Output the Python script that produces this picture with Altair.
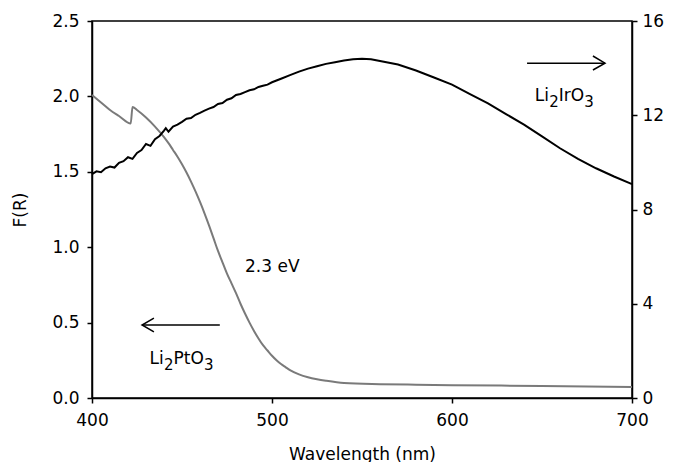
import altair as alt
import pandas as pd

# Li2IrO3 (right axis)
ir_wl = [400, 402.5, 405, 407.5, 410, 412.5, 415, 417.5, 420, 422.5, 425, 427.5, 430, 432.5,
         435, 437.5, 440, 441, 442.5, 445, 447.5, 450, 452.5, 455, 457.5, 460, 462.5, 465,
         467.5, 470, 472.5, 475, 477.5, 480, 482.5, 485, 487.5, 490, 492.5, 495, 497.5, 500,
         505, 510, 515, 520, 525, 530, 535, 540, 545, 550, 555, 560, 570, 580, 590, 600,
         610, 620, 630, 640, 650, 660, 670, 680, 690, 700]
ir_val = [9.50, 9.62, 9.58, 9.75, 9.82, 9.78, 9.98, 10.05, 10.22, 10.15, 10.40, 10.52, 10.78, 10.70,
          10.98, 11.12, 11.35, 11.45, 11.30, 11.52, 11.60, 11.72, 11.85, 11.88, 12.02, 12.10, 12.20, 12.28,
          12.35, 12.48, 12.52, 12.66, 12.72, 12.86, 12.90, 12.98, 13.06, 13.10, 13.20, 13.25, 13.30, 13.40,
          13.55, 13.70, 13.85, 13.98, 14.08, 14.18, 14.25, 14.32, 14.38, 14.40, 14.38, 14.30, 14.15, 13.90, 13.60, 13.30,
          12.90, 12.50, 12.05, 11.60, 11.10, 10.60, 10.15, 9.75, 9.40, 9.08]

# Li2PtO3 (left axis)
pt_wl = [400, 405, 410, 415, 421.5, 422.5, 425, 430, 435, 440, 442.5, 445, 447.5, 450, 452.5,
         455, 457.5, 460, 462.5, 465, 467.5, 470, 472.5, 475, 477.5, 480, 482.5, 485, 487.5,
         490, 492.5, 495, 497.5, 500, 502.5, 505, 507.5, 510, 515, 520, 525, 530, 540, 560,
         580, 600, 650, 700]
pt_val = [2.01, 1.96, 1.91, 1.87, 1.82, 1.93, 1.91, 1.86, 1.80, 1.73, 1.69, 1.645, 1.60, 1.55, 1.495,
          1.435, 1.37, 1.30, 1.225, 1.145, 1.06, 0.975, 0.90, 0.825, 0.76, 0.695, 0.625, 0.56, 0.50,
          0.445, 0.395, 0.35, 0.315, 0.28, 0.25, 0.225, 0.205, 0.185, 0.157, 0.138, 0.125, 0.115, 0.10, 0.092,
          0.088, 0.085, 0.08, 0.073]

x_ticks = [400, 500, 600, 700]
left_ticks = [0, 0.5, 1.0, 1.5, 2.0, 2.5]
right_ticks = [0, 4, 8, 12, 16]

# annotation anchors (wavelength, F(R))
ev_label = ("2.3 eV", 485, 0.87)
ir_label = (646, 2.0)
pt_label = (432, 0.26)
arrow_right = [(641.7, 2.22), (685, 2.22)]
arrow_right_head = [(678.3, 2.268), (685, 2.22), (678.3, 2.175)]
arrow_left = [(471, 0.484), (427.8, 0.484)]
arrow_left_head = [(434.4, 0.53), (427.8, 0.484), (434.4, 0.438)]

FONT = "DejaVu Sans"
xs = alt.Scale(domain=[400, 700], nice=False)
yl = alt.Scale(domain=[0, 2.5], nice=False)
yr = alt.Scale(domain=[0, 16], nice=False)

ir_df = pd.DataFrame({"wl": ir_wl, "v": ir_val})
pt_df = pd.DataFrame({"wl": pt_wl, "v": pt_val})

gray = alt.Chart(pt_df).mark_line(color="#7a7a7a", strokeWidth=2, interpolate="monotone").encode(
    x=alt.X("wl:Q", scale=xs, title="Wavelength (nm)",
            axis=alt.Axis(values=x_ticks, format="d", grid=False, titlePadding=18, labelPadding=9)),
    y=alt.Y("v:Q", scale=yl, title="F(R)",
            axis=alt.Axis(values=left_ticks, format=".1f", orient="left", grid=False,
                          titlePadding=22, labelPadding=8)),
)


def seg(points, group):
    return pd.DataFrame({"wl": [p[0] for p in points], "v": [p[1] for p in points],
                         "g": [group] * len(points), "o": list(range(len(points)))})


arrows_df = pd.concat([seg(arrow_right, "a"), seg(arrow_right_head, "b"),
                       seg(arrow_left, "c"), seg(arrow_left_head, "d")])
arrows = alt.Chart(arrows_df).mark_line(color="black", strokeWidth=1.5).encode(
    x=alt.X("wl:Q", scale=xs), y=alt.Y("v:Q", scale=yl), detail="g:N", order="o:Q")


def txt(text, wl, v, dx=0, dy=0, size=17):
    return alt.Chart(pd.DataFrame({"wl": [wl], "v": [v], "t": [text]})).mark_text(
        font=FONT, fontSize=size, align="left", baseline="middle", dx=dx, dy=dy, color="black"
    ).encode(x=alt.X("wl:Q", scale=xs), y=alt.Y("v:Q", scale=yl), text="t:N")


texts = [
    txt(ev_label[0], ev_label[1], ev_label[2]),
    txt("Li", ir_label[0], ir_label[1]),
    txt("2", ir_label[0], ir_label[1], dx=14.5, dy=6, size=15),
    txt("IrO", ir_label[0], ir_label[1], dx=24),
    txt("3", ir_label[0], ir_label[1], dx=49.5, dy=6, size=15),
    txt("Li", pt_label[0], pt_label[1]),
    txt("2", pt_label[0], pt_label[1], dx=14.5, dy=6, size=15),
    txt("PtO", pt_label[0], pt_label[1], dx=24),
    txt("3", pt_label[0], pt_label[1], dx=54.5, dy=6, size=15),
]

left_group = alt.layer(gray, arrows, *texts)

black = alt.Chart(ir_df).mark_line(color="black", strokeWidth=2).encode(
    x=alt.X("wl:Q", scale=xs),
    y=alt.Y("v:Q", scale=yr, title=None,
            axis=alt.Axis(values=right_ticks, format="d", orient="right", grid=False, labelPadding=5)),
)

chart = alt.layer(left_group, black).resolve_scale(y="independent").properties(
    width=540, height=377,
    autosize=alt.AutoSizeParams(type="none"),
    padding={"left": 84, "top": 13, "right": 35, "bottom": 64},
).configure_view(stroke="black", strokeWidth=1.5).configure_axis(
    labelFont=FONT, titleFont=FONT, labelFontSize=17, titleFontSize=17,
    labelColor="black", titleColor="black", domainColor="black", tickColor="black",
    domainWidth=1.5, tickWidth=1.5, tickSize=5, titleFontWeight="normal",
    labelFlush=False, labelOverlap=False,
)

chart.save("out.html", embed_options={"renderer": "svg", "actions": False})
